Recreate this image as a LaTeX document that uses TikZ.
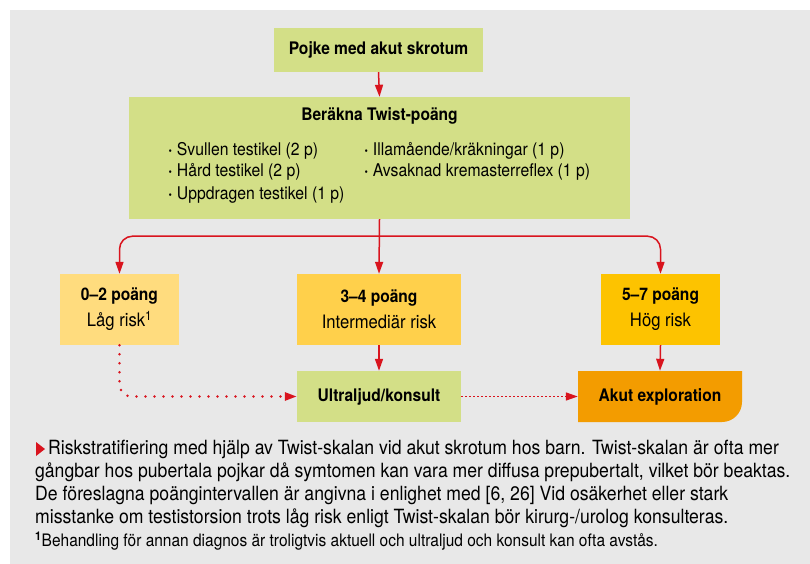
\documentclass[tikz,border=0pt]{standalone}
\usepackage{fontspec}
\setmainfont{TeX Gyre Heros}[FakeStretch=0.9]
\usetikzlibrary{positioning,arrows.meta}

\definecolor{bggray}{HTML}{E8E8E8}
\definecolor{boxgreen}{HTML}{D3DF87}
\definecolor{lowyellow}{HTML}{FFDC7E}
\definecolor{midyellow}{HTML}{FFD04B}
\definecolor{highyellow}{HTML}{FDC300}
\definecolor{acuteorange}{HTML}{F39C00}
\definecolor{arrowred}{HTML}{D9141E}

\newcommand{\hd}[1]{{\fontsize{17.3pt}{26pt}\selectfont\textbf{#1}}}
\newcommand{\sub}[1]{{\fontsize{18.5pt}{26pt}\selectfont #1}}

\tikzset{
  box/.style={inner sep=0pt, align=center, font=\fontsize{17.3pt}{26pt}\selectfont},
  item/.style={anchor=west, inner sep=0pt, font=\fontsize{17.5pt}{20pt}\selectfont},
  capline/.style={anchor=west, inner sep=0pt, font=\fontsize{19.6pt}{22pt}\selectfont},
  link/.style={draw=arrowred, line width=1.5pt, -{Triangle[length=12pt,width=8pt]}, arrowred},
}

\begin{document}
\begin{tikzpicture}[x=1pt, y=-1pt]

\useasboundingbox (0,0) rectangle (810,564);
\fill[bggray] (10,10) rectangle (810,564);

% boxes
\node[box, fill=boxgreen, minimum width=209pt, minimum height=44pt] (start) at (378.5,50) {\hd{Pojke med akut skrotum}};
\node[box, fill=boxgreen, minimum width=501pt, minimum height=122pt] (twist) at (379.5,158) {};
\node[box] (twisttitle) at (379.5,116) {\hd{Beräkna Twist-poäng}};

\node[item] (sw) at (168,151) {\textbf{·} Svullen testikel (2 p)};
\node[item] (hard) at (168,172) {\textbf{·} Hård testikel (2 p)};
\node[item] (upp) at (168,195) {\textbf{·} Uppdragen testikel (1 p)};
\node[item] (ill) at (364,151) {\textbf{·} Illamående/kräkningar (1 p)};
\node[item] (krem) at (364,172) {\textbf{·} Avsaknad kremasterreflex (1 p)};

\node[box, fill=lowyellow, minimum width=119pt, minimum height=71pt] (low) at (119.5,309.5) {\hd{0–2 poäng}\\\sub{Låg risk\textsuperscript{1}}};
\node[box, fill=midyellow, minimum width=164pt, minimum height=71pt] (mid) at (379,309.5) {\hd{3–4 poäng}\\\sub{Intermediär risk}};
\node[box, fill=highyellow, minimum width=119pt, minimum height=71pt] (high) at (660.5,309.5) {\hd{5–7 poäng}\\\sub{Hög risk}};

\node[box, fill=boxgreen, minimum width=164pt, minimum height=51pt] (us) at (379,396.5) {\hd{Ultraljud/konsult}};
\fill[acuteorange] (578,371) -- (742,371) -- (742,402) arc[start angle=0, end angle=-90, radius=20pt] -- (578,422) -- cycle;
\node[box, minimum width=164pt, minimum height=51pt] (acute) at (660,396.5) {\hd{Akut exploration}};

% connectors
\draw[link] (start.south) -- (twist.north);
\draw[link] (twist.south) -- (mid.north);
\coordinate[below=17pt of twist.south] (split);
\draw[link, rounded corners=13pt] (split) -| (low.north);
\draw[link, rounded corners=13pt] (split) -| (high.north);
\draw[link] (mid.south) -- (us.north);
\draw[link] (high.south) -- (acute.north);

\draw[link, line width=2.7pt, line cap=round, dash pattern=on 0pt off 9pt, rounded corners=12pt] (low.south) |- (us.west);
\draw[link, dash pattern=on 1.5pt off 2.5pt] (us.east) -- (acute.west);

% caption
\fill[arrowred] (36,442) -- (45,449) -- (36,456) -- cycle;
\node[capline] (cap1) at (48,449) {Riskstratifiering med hjälp av Twist-skalan vid akut skrotum hos barn. Twist-skalan är ofta mer};
\node[capline] (cap2) at (35,472) {gångbar hos pubertala pojkar då symtomen kan vara mer diffusa prepubertalt, vilket bör beaktas.};
\node[capline] (cap3) at (35,495) {De föreslagna poängintervallen är angivna i enlighet med [6, 26] Vid osäkerhet eller stark};
\node[capline] (cap4) at (35,518) {misstanke om testistorsion trots låg risk enligt Twist-skalan bör kirurg-/urolog konsulteras.};
\node[capline, font=\fontsize{17.2pt}{18pt}\selectfont] (foot) at (35,541) {\textsuperscript{\textbf{1}}Behandling för annan diagnos är troligtvis aktuell och ultraljud och konsult kan ofta avstås.};

\end{tikzpicture}
\end{document}
